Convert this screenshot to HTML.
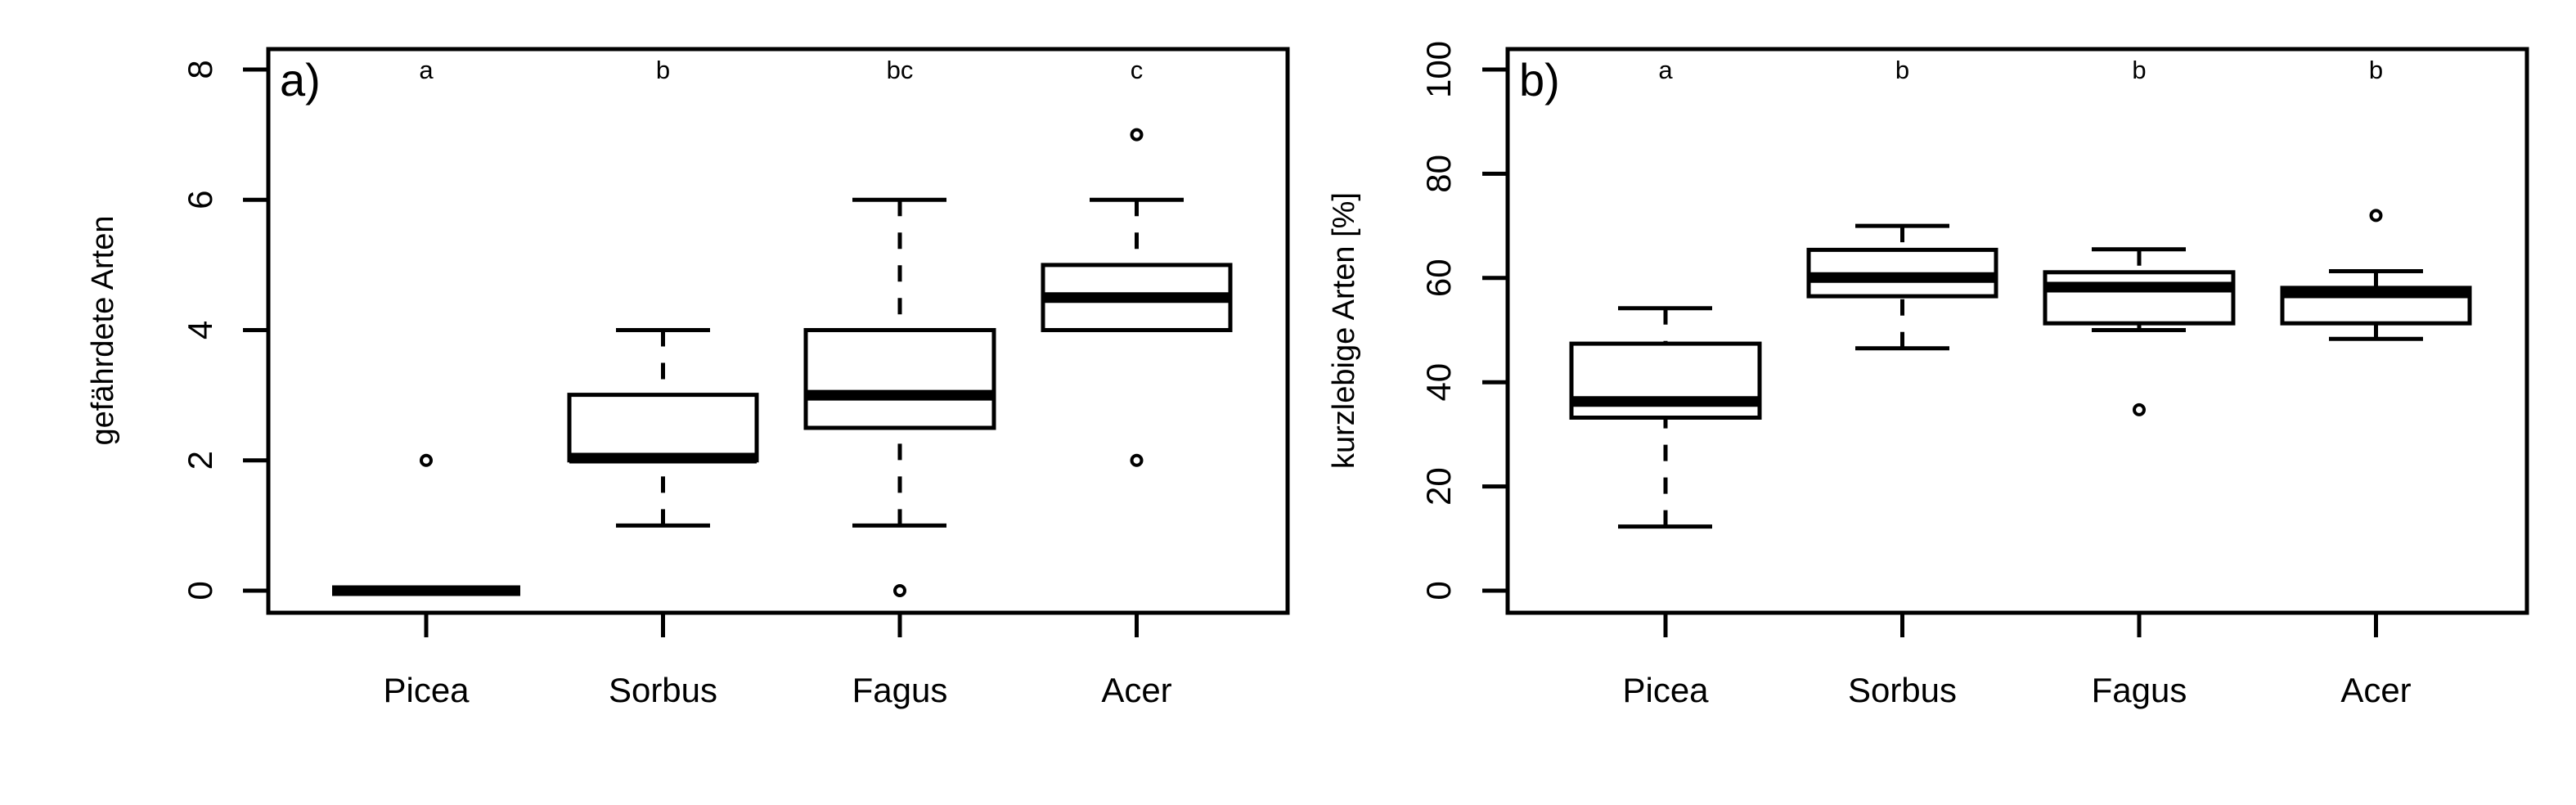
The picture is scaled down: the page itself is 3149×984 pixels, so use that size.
<!DOCTYPE html>
<html><head><meta charset="utf-8"><style>html,body{margin:0;padding:0;background:#fff}svg{display:block}</style></head>
<body>
<svg width="3149" height="984" viewBox="0 0 3149 984" xmlns="http://www.w3.org/2000/svg" font-family="Liberation Sans, Arial, sans-serif">
<rect width="3149" height="984" fill="#fff"/>
<g stroke="#000" stroke-width="5" fill="none">
<!-- Panel a frame -->
<rect x="328" y="60" width="1246" height="689"/>
<!-- y ticks a -->
<path d="M297 722H328M297 562.75H328M297 403.5H328M297 244.25H328M297 85H328"/>
<!-- x ticks a -->
<path d="M521 749V779M810.5 749V779M1100 749V779M1389.5 749V779"/>
<!-- Panel b frame -->
<rect x="1843" y="60" width="1246" height="689"/>
<path d="M1812 722H1843M1812 594.6H1843M1812 467.2H1843M1812 339.8H1843M1812 212.4H1843M1812 85H1843"/>
<path d="M2036 749V779M2325.5 749V779M2615 749V779M2904.5 749V779"/>
</g>
<!-- tick labels a -->
<g font-size="42" text-anchor="middle" fill="#000">
<text transform="translate(259,722) rotate(-90)">0</text>
<text transform="translate(259,562.75) rotate(-90)">2</text>
<text transform="translate(259,403.5) rotate(-90)">4</text>
<text transform="translate(259,244.25) rotate(-90)">6</text>
<text transform="translate(259,85) rotate(-90)">8</text>
<text transform="translate(1773,722) rotate(-90)">0</text>
<text transform="translate(1773,594.6) rotate(-90)">20</text>
<text transform="translate(1773,467.2) rotate(-90)">40</text>
<text transform="translate(1773,339.8) rotate(-90)">60</text>
<text transform="translate(1773,212.4) rotate(-90)">80</text>
<text transform="translate(1773,85) rotate(-90)">100</text>
</g>
<g font-size="38" text-anchor="middle" fill="#000">
<text transform="translate(138,404) rotate(-90)">gefährdete Arten</text>
<text transform="translate(1655,404) rotate(-90)">kurzlebige Arten [%]</text>
</g>
<g font-size="42" text-anchor="middle" fill="#000">
<text x="521" y="858">Picea</text><text x="810.5" y="858">Sorbus</text><text x="1100" y="858">Fagus</text><text x="1389.5" y="858">Acer</text>
<text x="2036" y="858">Picea</text><text x="2325.5" y="858">Sorbus</text><text x="2615" y="858">Fagus</text><text x="2904.5" y="858">Acer</text>
</g>
<g font-size="31" text-anchor="middle" fill="#000">
<text x="521" y="96">a</text><text x="810.5" y="96">b</text><text x="1100" y="96">bc</text><text x="1389.5" y="96">c</text>
<text x="2036" y="96">a</text><text x="2325.5" y="96">b</text><text x="2615" y="96">b</text><text x="2904.5" y="96">b</text>
</g>
<g font-size="56" fill="#000">
<text x="342" y="117">a)</text>
<text x="1857" y="117">b)</text>
</g>

<!-- Panel a boxes -->
<g stroke="#000" stroke-width="5" fill="none">
<!-- whiskers dashed -->
<g stroke-dasharray="20 20">
<path d="M810.5 642.4V562.75M810.5 403.5V482.6"/>
<path d="M1100 642.4V523M1100 244.25V403.5"/>
<path d="M1389.5 244.25V323.9"/>
<path d="M2036 376.7V420.1M2036 643.6V510.5"/>
<path d="M2325.5 276.1V305.4M2325.5 425.8V362.1"/>
<path d="M2615 304.8V332.8M2615 403.5V395.2"/>
<path d="M2904.5 331.5V351.9M2904.5 414.3V395.2"/>
</g>
<!-- caps -->
<path d="M753 642.4H868M753 403.5H868"/>
<path d="M1042 642.4H1157M1042 244.25H1157"/>
<path d="M1332 244.25H1447"/>
<path d="M1978 376.7H2093M1978 643.6H2093"/>
<path d="M2268 276.1H2383M2268 425.8H2383"/>
<path d="M2557 304.8H2672M2557 403.5H2672"/>
<path d="M2847 331.5H2962M2847 414.3H2962"/>
<!-- boxes -->
<rect x="696" y="482.6" width="229" height="80.15" fill="#fff"/>
<rect x="985" y="403.5" width="230" height="119.5" fill="#fff"/>
<rect x="1275" y="323.9" width="229" height="79.6" fill="#fff"/>
<rect x="1921" y="420.1" width="230" height="90.4" fill="#fff"/>
<rect x="2211" y="305.4" width="229" height="56.7" fill="#fff"/>
<rect x="2500" y="332.8" width="230" height="62.4" fill="#fff"/>
<rect x="2790" y="351.9" width="229" height="43.3" fill="#fff"/>
<!-- outliers -->
<g stroke-width="4">
<circle cx="521" cy="562.75" r="6"/>
<circle cx="1100" cy="722" r="6"/>
<circle cx="1389.5" cy="164.6" r="6"/>
<circle cx="1389.5" cy="562.75" r="6"/>
<circle cx="2615" cy="500.9" r="6"/>
<circle cx="2904.5" cy="263.4" r="6"/>
</g>
</g>
<!-- medians -->
<g stroke="#000" stroke-width="13">
<path d="M406 722H636"/>
<path d="M696 560H925"/>
<path d="M985 483.1H1215"/>
<path d="M1275 363.7H1504"/>
<path d="M1921 490.8H2151"/>
<path d="M2211 339.2H2440"/>
<path d="M2500 351H2730"/>
<path d="M2790 358H3019"/>
</g>
</svg>
</body></html>
